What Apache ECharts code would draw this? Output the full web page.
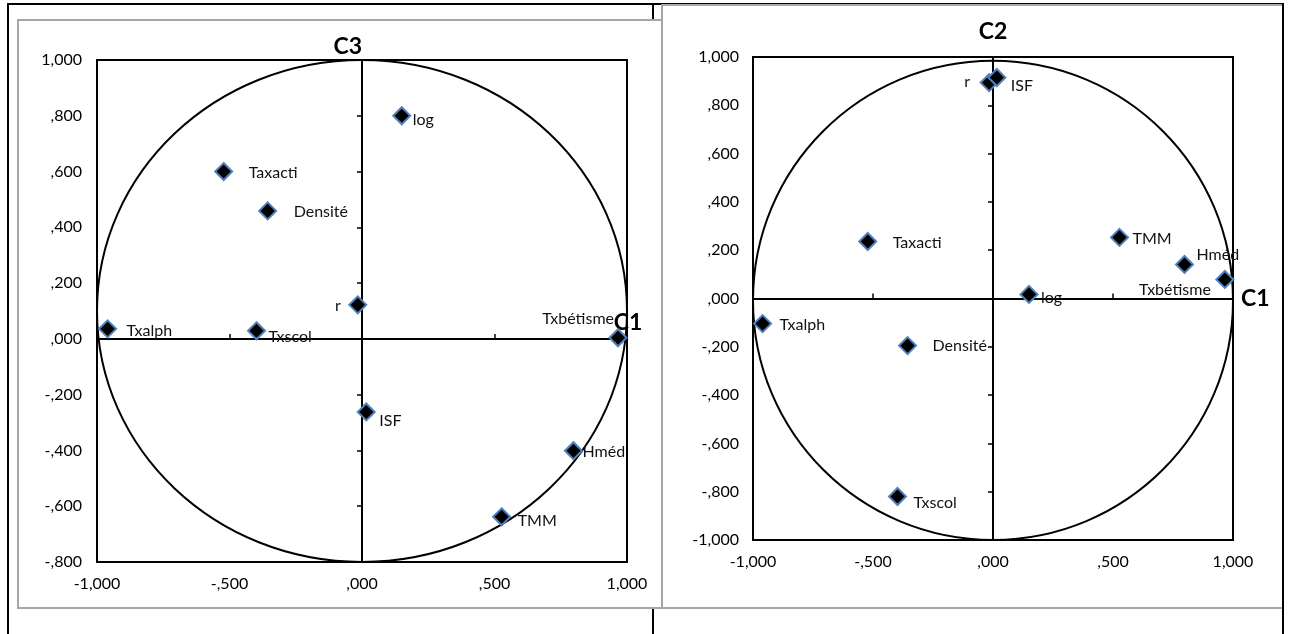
<!DOCTYPE html>
<html>
<head>
<meta charset="utf-8">
<script src="https://cdn.jsdelivr.net/npm/echarts@6/dist/echarts.min.js"></script>
<style>
  html, body { margin: 0; padding: 0; background: #fff; }
  #main { width: 1289px; height: 634px; }
</style>
</head>
<body>
<div id="main"></div>
<script>
// Variables projected on the principal components
const variables = ['log', 'Taxacti', 'Densité', 'r', 'Txalph', 'Txscol', 'Txbétisme', 'ISF', 'Hméd', 'TMM'];
const c1 = [0.150, -0.522, -0.356, -0.016, -0.960, -0.398, 0.966, 0.016, 0.798, 0.527];
const c2 = [0.017, 0.236, -0.195, 0.894, -0.104, -0.820, 0.079, 0.915, 0.141, 0.253];
const c3 = [0.800, 0.600, 0.459, 0.122, 0.036, 0.029, 0.004, -0.262, -0.401, -0.638];

// Axis ranges and tick steps
const xRange = [-1, 1], xStep = 0.5;
const yRangeC3 = [-0.8, 1], yRangeC2 = [-1, 1], yStep = 0.2;

// Correlation circle for each panel: [centre x, centre y, radius x, radius y]
const circleC3 = [0, 0.1, 1, 0.9];
const circleC2 = [0, -0.008, 1, 0.992];

// Label placement for each panel: [align, dx, dy] from the marker centre
const labelPlaceC3 = {
  'log': ['left', 11, 4], 'Taxacti': ['left', 25, 1], 'Densité': ['left', 26, 1],
  'r': ['right', -17, 1], 'Txalph': ['left', 19, 2], 'Txscol': ['left', 12, 6],
  'Txbétisme': ['right', -4, -19], 'ISF': ['left', 13, 9], 'Hméd': ['left', 9, 1],
  'TMM': ['left', 16, 4]
};
const labelPlaceC2 = {
  'log': ['left', 12, 3], 'Taxacti': ['left', 25, 1], 'Densité': ['left', 25, 0],
  'r': ['right', -19, -1], 'Txalph': ['left', 17, 1], 'Txscol': ['left', 16, 6],
  'Txbétisme': ['right', -14, 10], 'ISF': ['left', 14, 8], 'Hméd': ['left', 12, -10],
  'TMM': ['left', 13, 1]
};

const FONT = 'Lato, "Open Sans", sans-serif';

// Excel-style numbers: three decimals, comma separator, no leading zero
function fmt(v) {
  const r = Math.round(v * 1000) / 1000;
  let s = Math.abs(r).toFixed(3).replace('.', ',');
  if (s.startsWith('0,')) s = s.slice(1);
  return (r < 0 ? '-' : '') + s;
}

const chart = echarts.init(document.getElementById('main'));

const grids = [
  { left: 97, top: 60, width: 530, height: 502 },
  { left: 753, top: 57, width: 480, height: 483 }
];

const xAxes = [], yAxes = [], series = [];

function addPanel(gi, yVals, yRange, circle, place, yName) {
  const xi = xAxes.length, yi = yAxes.length;
  // tick labels along the plot edges
  xAxes.push({
    gridIndex: gi, type: 'value', min: xRange[0], max: xRange[1], interval: xStep,
    position: 'bottom', axisLine: { show: false }, axisTick: { show: false },
    splitLine: { show: false },
    axisLabel: { formatter: fmt, margin: 14, color: '#000', fontSize: 16, fontFamily: FONT }
  });
  // axis line through zero
  xAxes.push({
    gridIndex: gi, type: 'value', min: xRange[0], max: xRange[1], interval: xStep,
    axisLine: { show: true, onZero: true, onZeroAxisIndex: yi + 1, lineStyle: { color: '#000', width: 2 } },
    axisTick: { show: true, length: 5, lineStyle: { color: '#000', width: 1.5 } },
    axisLabel: { show: false }, splitLine: { show: false },
    name: 'C1', nameLocation: 'end',
    nameGap: gi === 0 ? 1 : 8,
    nameTextStyle: gi === 0
      ? { fontSize: 23, fontWeight: 'bold', fontFamily: FONT, color: '#000', align: 'center', verticalAlign: 'bottom', padding: [0, 0, 5, 0] }
      : { fontSize: 23, fontWeight: 'bold', fontFamily: FONT, color: '#000', align: 'left', verticalAlign: 'middle', padding: [12, 0, 0, 0] }
  });
  yAxes.push({
    gridIndex: gi, type: 'value', min: yRange[0], max: yRange[1], interval: yStep,
    position: 'left', axisLine: { show: false }, axisTick: { show: false },
    splitLine: { show: false },
    axisLabel: { formatter: fmt, margin: gi === 0 ? 15 : 14, color: '#000', fontSize: 16, fontFamily: FONT }
  });
  yAxes.push({
    gridIndex: gi, type: 'value', min: yRange[0], max: yRange[1], interval: yStep,
    position: 'left',
    axisLine: { show: true, onZero: true, onZeroAxisIndex: xi + 1, lineStyle: { color: '#000', width: 2 } },
    axisTick: { show: true, length: 5, lineStyle: { color: '#000', width: 1.5 } },
    axisLabel: { show: false }, splitLine: { show: false },
    name: yName, nameLocation: 'end', nameGap: gi === 0 ? 2 : 14,
    nameTextStyle: {
      fontSize: 23, fontWeight: 'bold', fontFamily: FONT, color: '#000',
      align: gi === 0 ? 'right' : 'center', verticalAlign: 'bottom'
    }
  });

  // correlation circle
  series.push({
    type: 'custom', xAxisIndex: xi, yAxisIndex: yi, z: 1, silent: true, clip: false,
    data: [circle],
    renderItem: function (params, api) {
      const c = api.coord([api.value(0), api.value(1)]);
      const s = api.size([api.value(2), api.value(3)]);
      return {
        type: 'ellipse',
        shape: { cx: c[0], cy: c[1], rx: s[0], ry: s[1] },
        style: { fill: null, stroke: '#000', lineWidth: 2 }
      };
    }
  });

  // variable points
  series.push({
    type: 'scatter', xAxisIndex: xi, yAxisIndex: yi, z: 5,
    symbol: 'diamond', symbolSize: [17, 17],
    itemStyle: { color: '#000', borderColor: '#4F81BD', borderWidth: 2, opacity: 1 },
    data: variables.map((n, i) => {
      const p = place[n];
      return {
        name: n, value: [c1[i], yVals[i]],
        label: {
          show: true, position: 'inside', formatter: '{b}',
          align: p[0], verticalAlign: 'middle', offset: [p[1], p[2]],
          color: '#111', fontSize: 16, fontFamily: FONT
        }
      };
    })
  });
}

addPanel(0, c3, yRangeC3, circleC3, labelPlaceC3, 'C3');
addPanel(1, c2, yRangeC2, circleC2, labelPlaceC2, 'C2');

chart.setOption({
  animation: false,
  backgroundColor: '#fff',
  grid: grids.map(g => Object.assign({ show: true, borderColor: '#000', borderWidth: 2, backgroundColor: 'transparent', containLabel: false }, g)),
  xAxis: xAxes,
  yAxis: yAxes,
  series: series,
  graphic: [
    // table rules behind the two charts
    { type: 'line', z: -20, silent: true, shape: { x1: 7, y1: 4, x2: 1284, y2: 4 }, style: { stroke: '#000', lineWidth: 2 } },
    { type: 'line', z: -20, silent: true, shape: { x1: 8, y1: 4, x2: 8, y2: 634 }, style: { stroke: '#000', lineWidth: 2 } },
    { type: 'line', z: -20, silent: true, shape: { x1: 653, y1: 4, x2: 653, y2: 634 }, style: { stroke: '#000', lineWidth: 2 } },
    // chart frames
    { type: 'rect', z: -10, silent: true, shape: { x: 18, y: 20, width: 644, height: 588 }, style: { fill: '#fff', stroke: '#a6a6a6', lineWidth: 2 } },
    { type: 'rect', z: -10, silent: true, shape: { x: 662, y: 5, width: 621, height: 603 }, style: { fill: '#fff', stroke: '#a6a6a6', lineWidth: 2 } },
    { type: 'line', z: -5, silent: true, shape: { x1: 1283, y1: 4, x2: 1283, y2: 634 }, style: { stroke: '#000', lineWidth: 2 } }
  ]
});
</script>
</body>
</html>
